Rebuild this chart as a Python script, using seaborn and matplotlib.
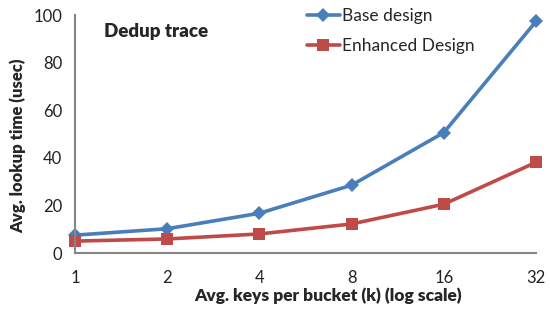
import matplotlib
matplotlib.use("Agg")
import matplotlib.pyplot as plt
import seaborn as sns
import pandas as pd

keys = [1, 2, 4, 8, 16, 32]
base_design = [7.5, 10.2, 16.7, 28.5, 50.6, 97.3]
enhanced_design = [5.0, 5.9, 8.0, 12.2, 20.5, 38.1]
x_ticks = [1, 2, 4, 8, 16, 32]
y_ticks = [0, 20, 40, 60, 80, 100]

sns.set_theme(style="white")
plt.rcParams['font.family'] = ['Lato', 'DejaVu Sans']

df = pd.DataFrame({
    "k": keys * 2,
    "time": base_design + enhanced_design,
    "series": ["Base design"] * len(keys) + ["Enhanced Design"] * len(keys),
})

fig = plt.figure(figsize=(5.5, 3.1), dpi=100)
ax = fig.add_axes([75/550, 1-253/310, 461/550, 238/310])

palette = {"Base design": "#4A7EBB", "Enhanced Design": "#BE4B48"}
markers = {"Base design": "D", "Enhanced Design": "s"}
sizes = {"Base design": 7, "Enhanced Design": 8.5}
for name in ["Base design", "Enhanced Design"]:
    sub = df[df.series == name]
    sns.lineplot(data=sub, x="k", y="time", ax=ax, color=palette[name],
                 marker=markers[name], markersize=sizes[name], linewidth=2.6,
                 markeredgewidth=0, label=name, clip_on=False)

ax.set_xscale("log", base=2)
ax.set_xlim(1, 32)
ax.set_ylim(0, 100)
ax.set_xticks(x_ticks)
ax.set_xticklabels([str(t) for t in x_ticks])
ax.minorticks_off()
ax.set_yticks(y_ticks)
for s in ["top", "right"]:
    ax.spines[s].set_visible(False)
for s in ["left", "bottom"]:
    ax.spines[s].set_color("#868686")
    ax.spines[s].set_linewidth(1.5)
ax.tick_params(axis="both", direction="out", length=5, width=1, color="#868686",
               labelsize=12, labelcolor="#222222", pad=7)
ax.tick_params(axis="y", pad=4)
ax.set_xlabel("Avg. keys per bucket (k) (log scale)", fontsize=12.5, fontweight="heavy", labelpad=3)
ax.xaxis.set_label_coords(0.548, -0.145)
ax.set_ylabel("Avg. lookup time (usec)", fontsize=12, fontweight="heavy", labelpad=6)
ax.yaxis.set_label_coords(-0.105, 0.45)
ax.text(0.063, 0.93, "Dedup trace", transform=ax.transAxes, fontsize=13.5,
        fontweight="heavy", va="center", ha="left")

leg = ax.legend(loc="upper left", bbox_to_anchor=(0.488, 1.06), frameon=False,
                fontsize=12.5, handlelength=1.9, handletextpad=0.1,
                labelspacing=0.85, borderaxespad=0)
ax.grid(False)

fig.savefig("out.png", dpi=100)
